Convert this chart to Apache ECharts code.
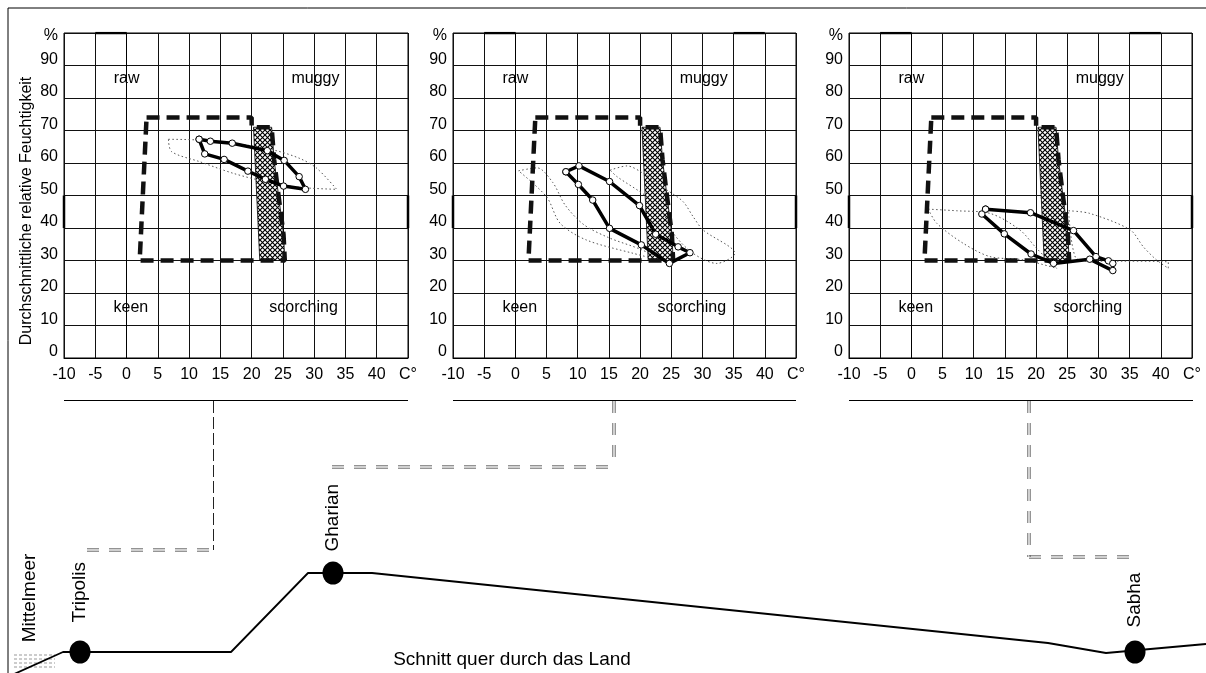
<!DOCTYPE html>
<html><head><meta charset="utf-8">
<script src="https://cdn.jsdelivr.net/npm/echarts@6/dist/echarts.min.js"></script>
<style>html,body{margin:0;padding:0;background:#fff}#c{width:1206px;height:673px}</style>
</head><body><div id="c"></div>
<script>
// ---------- data ----------
const xTickLabels = ['-10','-5','0','5','10','15','20','25','30','35','40','C°'];
const yTickLabels = ['0','10','20','30','40','50','60','70','80','90','%'];
const stations = ['Tripolis','Gharian','Sabha'];
const zoneNames = ['raw','muggy','keen','scorching'];
const zoneCoords = [[0,86],[30.2,86],[0.7,15.5],[28.3,15.6]];
const axisTitle = 'Durchschnittliche relative Feuchtigkeit';
const sectionTitle = 'Schnitt quer durch das Land';
const seaName = 'Mittelmeer';

// comfort zone (temperature °C, relative humidity %)
const comfortOutline = [[3.2,74],[20,74],[20,71],[23.2,71],[23.6,61],[24.3,50],[25.1,38],[25.3,30],[2.1,30],[3.2,74]];
const comfortCore = [[20.3,71],[23.2,71],[23.6,61],[24.3,50],[25.1,38],[25.3,30],[21.3,30]];

// monthly means (loop)
const tripolisMean = [[11.6,67.3],[13.4,66.7],[16.9,66.1],[22.5,63.8],[25.2,60.8],[27.6,55.8],[28.6,51.9],[25.1,52.9],[22.2,55.0],[19.4,57.5],[15.6,61.1],[12.5,62.8]];
const gharianMean = [[8.1,57.3],[10.2,59.1],[15.1,54.3],[19.9,46.9],[22.5,38.1],[26.1,34.2],[28.0,32.4],[24.7,29.1],[20.2,34.8],[15.1,39.9],[12.4,48.6],[10.1,53.4]];
const sabhaMean = [[11.9,45.8],[19.1,44.7],[26.0,39.2],[29.6,31.2],[31.6,29.9],[32.3,29.1],[32.3,26.9],[28.6,30.4],[22.8,29.1],[19.2,32.0],[14.9,38.2],[11.3,44.3]];

// extremes envelopes (dotted)
const tripolisRange = [[6.7,67.3],[11.2,67.1],[17.1,66.1],[23.5,64.0],[27.7,61.4],[30.4,58.4],[33.6,51.9],[27.7,52.5],[22.4,54.2],[17.1,56.8],[11.7,60.4],[7.2,63.5],[6.7,67.3]];
const gharianMin = [[0.5,57.6],[3.5,58.5],[6,54],[8,47],[11,41],[15,37],[20,33.5],[24.3,29.6],[18.9,32.2],[11.4,36.3],[7.2,41.4],[5,49.6],[0.5,57.6]];
const gharianMax = [[15.2,57.8],[17.9,59.1],[20.5,56.8],[24.3,51.7],[26.9,48.1],[28.5,43.5],[30.1,39.4],[35.2,32.2],[32.3,29.1],[28.5,32.2],[25.3,38.4],[23.7,44.5],[21.1,49.6],[16.3,55.8],[15.2,57.8]];
const sabhaMin = [[2.7,45.8],[7.3,45.3],[12.6,44.5],[17.4,39.4],[20.1,33.7],[23.3,27.6],[17.9,30.2],[12.6,31.2],[8.3,35.3],[4.1,41.4],[2.7,45.8]];
const sabhaMax = [[25.2,45.3],[28.6,44.5],[35.1,39.4],[37.2,34.2],[39.3,30.2],[41.2,27.6],[41.2,29.5],[34.0,29.8],[28.6,29.8],[26.3,31.0],[25.2,45.3]];

// schematic cross-section (distance, elevation)
const profileDistance = [12, 63, 231, 308, 372, 1048, 1106, 1206];
const profileElevation = [-2, 21, 21, 100, 100, 30, 20, 29];
const cityDistance = [80, 333, 1135];
const cityElevation = [21, 100, 21];

// heavier border stretches of each diagram frame
const frameAccents = [
  [[[-5,100],[0,100]], [[-10,40],[-10,50]], [[45,40],[45,50]]],
  [[[-5,100],[0,100]], [[35,100],[40,100]], [[-10,40],[-10,50]], [[45,40],[45,50]]],
  [[[-5,100],[0,100]], [[35,100],[40,100]], [[-10,40],[-10,50]], [[45,40],[45,50]]]
];

// ---------- chart ----------
const FONT = '"Liberation Sans", Arial, sans-serif';
const gridLefts = [64, 453, 849];
const gridWidths = [344, 343, 343];
const means = [tripolisMean, gharianMean, sabhaMean];
const ranges = [[tripolisRange], [gharianMin, gharianMax], [sabhaMin, sabhaMax]];

function makeHatch(){
  const n = 5;
  const c = document.createElement('canvas'); c.width = n; c.height = n;
  const g = c.getContext('2d');
  g.fillStyle = '#fff'; g.fillRect(0,0,n,n);
  g.strokeStyle = '#000'; g.lineWidth = 1.15;
  g.beginPath(); g.moveTo(0,0); g.lineTo(n,n); g.moveTo(n,0); g.lineTo(0,n); g.stroke();
  return c;
}
const hatch = makeHatch();

const grid = [], xAxis = [], yAxis = [], series = [];
for (let i = 0; i < 3; i++) {
  grid.push({left: gridLefts[i], top: 33, width: gridWidths[i], height: 325, show: true, borderColor: '#000', borderWidth: 1});
  xAxis.push({gridIndex: i, type: 'value', min: -10, max: 45, interval: 5,
    axisLine: {show: true, lineStyle: {color: '#000', width: 1}}, axisTick: {show: false},
    splitLine: {show: true, lineStyle: {color: '#111', width: 1}},
    axisLabel: {color: '#000', fontSize: 16, fontFamily: FONT, margin: 9,
      formatter: v => xTickLabels[Math.round((v + 10) / 5)]}});
  yAxis.push({gridIndex: i, type: 'value', min: 0, max: 100, interval: 10,
    axisLine: {show: true, lineStyle: {color: '#000', width: 1}}, axisTick: {show: false},
    splitLine: {show: true, lineStyle: {color: '#111', width: 1}},
    axisLabel: {color: '#000', fontSize: 16, fontFamily: FONT, margin: 6,
      formatter: v => { const s = yTickLabels[Math.round(v / 10)]; return v === 100 ? '{p|' + s + '}' : '{n|' + s + '}'; },
      rich: {n: {fontSize: 16, fontFamily: FONT, color: '#000', padding: [0,0,12,0]},
             p: {fontSize: 16, fontFamily: FONT, color: '#000', padding: [6,0,0,0]}}}});
  // frame accents
  frameAccents[i].forEach(seg => series.push({type: 'line', xAxisIndex: i, yAxisIndex: i, z: 1, data: seg,
    symbol: 'none', silent: true, lineStyle: {color: '#000', width: 2.5}}));
  // hatched core
  series.push({type: 'custom', xAxisIndex: i, yAxisIndex: i, z: 2, silent: true,
    data: comfortCore,
    renderItem: (params, api) => {
      if (params.dataIndex !== 0) return;
      const pts = comfortCore.map(p => api.coord(p));
      return {type: 'polygon', shape: {points: pts}, style: {fill: {image: hatch, repeat: 'repeat'}, stroke: '#000', lineWidth: 0.8}};
    }});
  // dotted envelopes
  ranges[i].forEach(r => series.push({type: 'line', xAxisIndex: i, yAxisIndex: i, z: 3, data: r,
    symbol: 'none', smooth: 0.3, lineStyle: {color: '#555', width: 1, type: [1.5, 2.5]}}));
  // comfort outline
  series.push({type: 'line', xAxisIndex: i, yAxisIndex: i, z: 4, data: comfortOutline, symbol: 'none',
    lineStyle: {color: '#111', width: 4.5, type: [13, 7], cap: 'butt'}});
  // monthly mean loop
  series.push({type: 'line', name: stations[i], xAxisIndex: i, yAxisIndex: i, z: 6,
    data: means[i].concat([means[i][0]]), symbol: 'circle', symbolSize: 6.5, showAllSymbol: true,
    itemStyle: {color: '#fff', borderColor: '#000', borderWidth: 1, opacity: 1},
    lineStyle: {color: '#000', width: 3.5}});
  // zone names
  series.push({type: 'scatter', xAxisIndex: i, yAxisIndex: i, z: 7, symbolSize: 0, silent: true,
    itemStyle: {opacity: 1},
    data: zoneNames.map((n, k) => ({name: n, value: zoneCoords[k]})),
    label: {show: true, position: 'inside', formatter: p => p.name, color: '#000', fontSize: 16, fontFamily: FONT}});
}
// cross-section grid
grid.push({left: 0, top: 400, width: 1206, height: 273, show: false});
xAxis.push({gridIndex: 3, type: 'value', min: 0, max: 1206, show: false});
yAxis.push({gridIndex: 3, type: 'value', min: 0, max: 273, show: false});
series.push({type: 'line', xAxisIndex: 3, yAxisIndex: 3, z: 3, symbol: 'none',
  data: profileDistance.map((d, k) => [d, profileElevation[k]]), lineStyle: {color: '#000', width: 1.8}});
const labelDist = [18, 10, 13];
series.push({type: 'scatter', xAxisIndex: 3, yAxisIndex: 3, z: 4, symbolSize: [21, 23],
  itemStyle: {color: '#000', opacity: 1},
  data: stations.map((s, k) => ({name: s, value: [cityDistance[k], cityElevation[k]], label: {distance: labelDist[k]}})),
  label: {show: true, position: 'top', rotate: 90, align: 'left', verticalAlign: 'middle',
    formatter: p => p.name, color: '#000', fontSize: 19, fontFamily: FONT}});

// ---------- decorations ----------
const G = [];
function line(x1, y1, x2, y2, stroke, w, dash) {
  G.push({type: 'line', shape: {x1, y1, x2, y2}, style: {stroke, lineWidth: w, lineDash: dash || null}, silent: true});
}
function dbl(x1, y1, x2, y2) {
  const vert = x1 === x2;
  [-1.2, 1.2].forEach(o => line(x1 + (vert ? o : 0), y1 + (vert ? 0 : o), x2 + (vert ? o : 0), y2 + (vert ? 0 : o), '#666', 1, [12, 10]));
}
line(8, 8, 1206, 8, '#000', 1);
line(8, 8, 8, 673, '#000', 1);
line(64, 400.5, 408, 400.5, '#000', 1);
line(453, 400.5, 796, 400.5, '#000', 1);
line(849, 400.5, 1193, 400.5, '#000', 1);
line(213.5, 401, 213.5, 550, '#222', 1, [12, 4]);
dbl(87, 550, 213, 550);
dbl(614, 401, 614, 467);
dbl(332, 467, 614, 467);
dbl(1029, 401, 1029, 557);
dbl(1029, 557, 1133, 557);
[655, 659, 663, 667].forEach(y => line(14, y, 55, y, '#999', 1, [3, 2]));
G.push({type: 'text', x: 27, y: 211, rotation: Math.PI / 2, silent: true,
  style: {text: axisTitle, font: '16px ' + FONT, align: 'center', verticalAlign: 'middle', fill: '#000'}});
G.push({type: 'text', x: 30, y: 598, rotation: Math.PI / 2, silent: true,
  style: {text: seaName, font: '19px ' + FONT, align: 'center', verticalAlign: 'middle', fill: '#000'}});
G.push({type: 'text', x: 512, y: 660, silent: true,
  style: {text: sectionTitle, font: '19px ' + FONT, align: 'center', verticalAlign: 'middle', fill: '#000'}});

const chart = echarts.init(document.getElementById('c'), null, {renderer: 'canvas'});
chart.setOption({animation: false, backgroundColor: '#fff', grid, xAxis, yAxis, series, graphic: G});
</script></body></html>
